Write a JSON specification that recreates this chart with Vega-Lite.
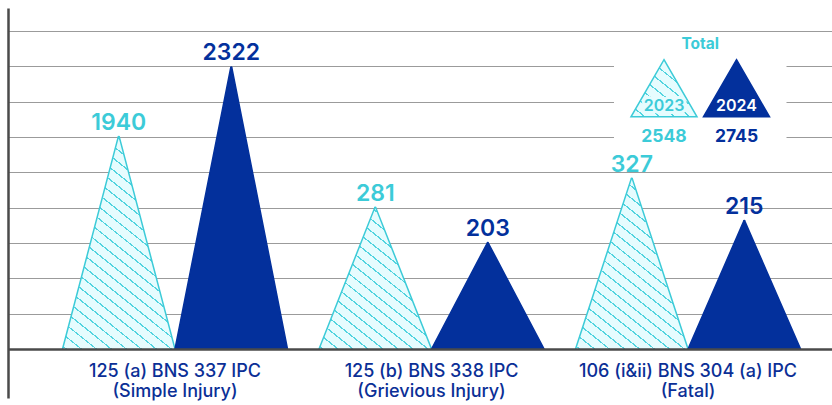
{
  "$schema": "https://vega.github.io/schema/vega-lite/v6.json",
  "width": 824,
  "height": 390,
  "padding": {"left": 8, "top": 8, "right": 0, "bottom": 7},
  "autosize": {"type": "none"},
  "background": "white",
  "config": {"view": {"stroke": null}, "font": "Inter", "text": {"font": "Inter"}, "axis": {"labelFont": "Inter"}},
  "datasets": {
    "crimes": [
      {"crime": "125 (a) BNS 337 IPC (Simple Injury)", "year": 2023, "value": 1940, "peak": 6.0},
      {"crime": "125 (a) BNS 337 IPC (Simple Injury)", "year": 2024, "value": 2322, "peak": 7.97},
      {"crime": "125 (b) BNS 338 IPC (Grievious Injury)", "year": 2023, "value": 281, "peak": 4.0},
      {"crime": "125 (b) BNS 338 IPC (Grievious Injury)", "year": 2024, "value": 203, "peak": 3.0},
      {"crime": "106 (i&ii) BNS 304 (a) IPC (Fatal)", "year": 2023, "value": 327, "peak": 4.82},
      {"crime": "106 (i&ii) BNS 304 (a) IPC (Fatal)", "year": 2024, "value": 215, "peak": 3.62}
    ],
    "totals": [
      {"year": 2023, "total": 2548},
      {"year": 2024, "total": 2745}
    ]
  },
  "layer": [
    {
      "data": {"name": "crimes"},
      "layer": [
        {
          "transform": [
            {"fold": ["peak"], "as": ["end", "h"]},
            {"impute": "h", "key": "end", "keyvals": ["base", "peak"], "groupby": ["crime", "year"], "value": 0}
          ],
          "mark": {"type": "trail", "clip": true, "strokeWidth": 1.5},
          "encoding": {
            "x": {
              "field": "crime", "type": "nominal",
              "sort": ["125 (a) BNS 337 IPC (Simple Injury)", "125 (b) BNS 338 IPC (Grievious Injury)", "106 (i&ii) BNS 304 (a) IPC (Fatal)"],
              "scale": {"type": "band", "paddingInner": 0.1228, "paddingOuter": 0.1676, "align": 0.634},
              "axis": {
                "title": null, "orient": "bottom", "offset": -49, "domain": true, "domainColor": "#4a4a4a", "domainWidth": 2.5,
                "ticks": false, "tickSize": 0, "labelPadding": 13, "labelFont": "Inter", "labelFontSize": 18, "labelFontWeight": 500,
                "labelColor": "#0b2f96", "labelLineHeight": 20, "labelLimit": 1000, "labelAngle": 0, "zindex": 1,
                "labelExpr": "[slice(datum.label, 0, lastindexof(datum.label, ' (')), slice(datum.label, lastindexof(datum.label, ' (') + 1)]"
              }
            },
            "xOffset": {"field": "year", "type": "nominal", "scale": {"type": "point", "padding": 0.5}},
            "y": {
              "field": "h", "type": "quantitative",
              "scale": {"domain": [-1.387, 9.651], "nice": false, "zero": false},
              "axis": {
                "title": null, "labels": false, "ticks": false, "domain": true, "domainColor": "#4a4a4a", "domainWidth": 2.5,
                "grid": true, "gridColor": "#9b9b9b", "gridWidth": 1.2, "values": [1, 2, 3, 4, 5, 6, 7, 8, 9]
              }
            },
            "size": {"condition": {"test": "datum.end === 'base'", "value": 112.5}, "value": 0},
            "order": {"field": "h", "type": "quantitative"},
            "detail": [{"field": "crime", "type": "nominal"}, {"field": "year", "type": "nominal"}],
            "stroke": {"condition": {"test": "datum.year === 2023", "value": "#3ccbd8"}, "value": "#03309c"},
            "fill": {
              "condition": [
                {"test": "datum.year === 2023 && datum.crime === '125 (a) BNS 337 IPC (Simple Injury)'", "value": {"gradient": "linear", "x1": 0, "y1": 1, "x2": 0.4047, "y2": -0.2062, "stops": [
{"offset":0,"color":"#e6fcfe"},{"offset":0.029,"color":"#e6fcfe"},{"offset":0.029,"color":"#52d4df"},{"offset":0.0333,"color":"#52d4df"},
{"offset":0.0333,"color":"#e6fcfe"},{"offset":0.0623,"color":"#e6fcfe"},{"offset":0.0623,"color":"#52d4df"},{"offset":0.0667,"color":"#52d4df"},
{"offset":0.0667,"color":"#e6fcfe"},{"offset":0.0957,"color":"#e6fcfe"},{"offset":0.0957,"color":"#52d4df"},{"offset":0.1,"color":"#52d4df"},
{"offset":0.1,"color":"#e6fcfe"},{"offset":0.129,"color":"#e6fcfe"},{"offset":0.129,"color":"#52d4df"},{"offset":0.1333,"color":"#52d4df"},
{"offset":0.1333,"color":"#e6fcfe"},{"offset":0.1623,"color":"#e6fcfe"},{"offset":0.1623,"color":"#52d4df"},{"offset":0.1667,"color":"#52d4df"},
{"offset":0.1667,"color":"#e6fcfe"},{"offset":0.1957,"color":"#e6fcfe"},{"offset":0.1957,"color":"#52d4df"},{"offset":0.2,"color":"#52d4df"},
{"offset":0.2,"color":"#e6fcfe"},{"offset":0.229,"color":"#e6fcfe"},{"offset":0.229,"color":"#52d4df"},{"offset":0.2333,"color":"#52d4df"},
{"offset":0.2333,"color":"#e6fcfe"},{"offset":0.2623,"color":"#e6fcfe"},{"offset":0.2623,"color":"#52d4df"},{"offset":0.2667,"color":"#52d4df"},
{"offset":0.2667,"color":"#e6fcfe"},{"offset":0.2957,"color":"#e6fcfe"},{"offset":0.2957,"color":"#52d4df"},{"offset":0.3,"color":"#52d4df"},
{"offset":0.3,"color":"#e6fcfe"},{"offset":0.329,"color":"#e6fcfe"},{"offset":0.329,"color":"#52d4df"},{"offset":0.3333,"color":"#52d4df"},
{"offset":0.3333,"color":"#e6fcfe"},{"offset":0.3623,"color":"#e6fcfe"},{"offset":0.3623,"color":"#52d4df"},{"offset":0.3667,"color":"#52d4df"},
{"offset":0.3667,"color":"#e6fcfe"},{"offset":0.3957,"color":"#e6fcfe"},{"offset":0.3957,"color":"#52d4df"},{"offset":0.4,"color":"#52d4df"},
{"offset":0.4,"color":"#e6fcfe"},{"offset":0.429,"color":"#e6fcfe"},{"offset":0.429,"color":"#52d4df"},{"offset":0.4333,"color":"#52d4df"},
{"offset":0.4333,"color":"#e6fcfe"},{"offset":0.4623,"color":"#e6fcfe"},{"offset":0.4623,"color":"#52d4df"},{"offset":0.4667,"color":"#52d4df"},
{"offset":0.4667,"color":"#e6fcfe"},{"offset":0.4957,"color":"#e6fcfe"},{"offset":0.4957,"color":"#52d4df"},{"offset":0.5,"color":"#52d4df"},
{"offset":0.5,"color":"#e6fcfe"},{"offset":0.529,"color":"#e6fcfe"},{"offset":0.529,"color":"#52d4df"},{"offset":0.5333,"color":"#52d4df"},
{"offset":0.5333,"color":"#e6fcfe"},{"offset":0.5623,"color":"#e6fcfe"},{"offset":0.5623,"color":"#52d4df"},{"offset":0.5667,"color":"#52d4df"},
{"offset":0.5667,"color":"#e6fcfe"},{"offset":0.5957,"color":"#e6fcfe"},{"offset":0.5957,"color":"#52d4df"},{"offset":0.6,"color":"#52d4df"},
{"offset":0.6,"color":"#e6fcfe"},{"offset":0.629,"color":"#e6fcfe"},{"offset":0.629,"color":"#52d4df"},{"offset":0.6333,"color":"#52d4df"},
{"offset":0.6333,"color":"#e6fcfe"},{"offset":0.6623,"color":"#e6fcfe"},{"offset":0.6623,"color":"#52d4df"},{"offset":0.6667,"color":"#52d4df"},
{"offset":0.6667,"color":"#e6fcfe"},{"offset":0.6957,"color":"#e6fcfe"},{"offset":0.6957,"color":"#52d4df"},{"offset":0.7,"color":"#52d4df"},
{"offset":0.7,"color":"#e6fcfe"},{"offset":0.729,"color":"#e6fcfe"},{"offset":0.729,"color":"#52d4df"},{"offset":0.7333,"color":"#52d4df"},
{"offset":0.7333,"color":"#e6fcfe"},{"offset":0.7623,"color":"#e6fcfe"},{"offset":0.7623,"color":"#52d4df"},{"offset":0.7667,"color":"#52d4df"},
{"offset":0.7667,"color":"#e6fcfe"},{"offset":0.7957,"color":"#e6fcfe"},{"offset":0.7957,"color":"#52d4df"},{"offset":0.8,"color":"#52d4df"},
{"offset":0.8,"color":"#e6fcfe"},{"offset":0.829,"color":"#e6fcfe"},{"offset":0.829,"color":"#52d4df"},{"offset":0.8333,"color":"#52d4df"},
{"offset":0.8333,"color":"#e6fcfe"},{"offset":0.8623,"color":"#e6fcfe"},{"offset":0.8623,"color":"#52d4df"},{"offset":0.8667,"color":"#52d4df"},
{"offset":0.8667,"color":"#e6fcfe"},{"offset":0.8957,"color":"#e6fcfe"},{"offset":0.8957,"color":"#52d4df"},{"offset":0.9,"color":"#52d4df"},
{"offset":0.9,"color":"#e6fcfe"},{"offset":0.929,"color":"#e6fcfe"},{"offset":0.929,"color":"#52d4df"},{"offset":0.9333,"color":"#52d4df"},
{"offset":0.9333,"color":"#e6fcfe"},{"offset":0.9623,"color":"#e6fcfe"},{"offset":0.9623,"color":"#52d4df"},{"offset":0.9667,"color":"#52d4df"},
{"offset":0.9667,"color":"#e6fcfe"},{"offset":0.9957,"color":"#e6fcfe"},{"offset":0.9957,"color":"#52d4df"},{"offset":1,"color":"#52d4df"}
                ]}},
                {"test": "datum.year === 2023 && datum.crime === '125 (b) BNS 338 IPC (Grievious Injury)'", "value": {"gradient": "linear", "x1": 0, "y1": 1, "x2": 0.6873, "y2": -0.5089, "stops": [
{"offset":0,"color":"#e6fcfe"},{"offset":0.029,"color":"#e6fcfe"},{"offset":0.029,"color":"#52d4df"},{"offset":0.0333,"color":"#52d4df"},
{"offset":0.0333,"color":"#e6fcfe"},{"offset":0.0623,"color":"#e6fcfe"},{"offset":0.0623,"color":"#52d4df"},{"offset":0.0667,"color":"#52d4df"},
{"offset":0.0667,"color":"#e6fcfe"},{"offset":0.0957,"color":"#e6fcfe"},{"offset":0.0957,"color":"#52d4df"},{"offset":0.1,"color":"#52d4df"},
{"offset":0.1,"color":"#e6fcfe"},{"offset":0.129,"color":"#e6fcfe"},{"offset":0.129,"color":"#52d4df"},{"offset":0.1333,"color":"#52d4df"},
{"offset":0.1333,"color":"#e6fcfe"},{"offset":0.1623,"color":"#e6fcfe"},{"offset":0.1623,"color":"#52d4df"},{"offset":0.1667,"color":"#52d4df"},
{"offset":0.1667,"color":"#e6fcfe"},{"offset":0.1957,"color":"#e6fcfe"},{"offset":0.1957,"color":"#52d4df"},{"offset":0.2,"color":"#52d4df"},
{"offset":0.2,"color":"#e6fcfe"},{"offset":0.229,"color":"#e6fcfe"},{"offset":0.229,"color":"#52d4df"},{"offset":0.2333,"color":"#52d4df"},
{"offset":0.2333,"color":"#e6fcfe"},{"offset":0.2623,"color":"#e6fcfe"},{"offset":0.2623,"color":"#52d4df"},{"offset":0.2667,"color":"#52d4df"},
{"offset":0.2667,"color":"#e6fcfe"},{"offset":0.2957,"color":"#e6fcfe"},{"offset":0.2957,"color":"#52d4df"},{"offset":0.3,"color":"#52d4df"},
{"offset":0.3,"color":"#e6fcfe"},{"offset":0.329,"color":"#e6fcfe"},{"offset":0.329,"color":"#52d4df"},{"offset":0.3333,"color":"#52d4df"},
{"offset":0.3333,"color":"#e6fcfe"},{"offset":0.3623,"color":"#e6fcfe"},{"offset":0.3623,"color":"#52d4df"},{"offset":0.3667,"color":"#52d4df"},
{"offset":0.3667,"color":"#e6fcfe"},{"offset":0.3957,"color":"#e6fcfe"},{"offset":0.3957,"color":"#52d4df"},{"offset":0.4,"color":"#52d4df"},
{"offset":0.4,"color":"#e6fcfe"},{"offset":0.429,"color":"#e6fcfe"},{"offset":0.429,"color":"#52d4df"},{"offset":0.4333,"color":"#52d4df"},
{"offset":0.4333,"color":"#e6fcfe"},{"offset":0.4623,"color":"#e6fcfe"},{"offset":0.4623,"color":"#52d4df"},{"offset":0.4667,"color":"#52d4df"},
{"offset":0.4667,"color":"#e6fcfe"},{"offset":0.4957,"color":"#e6fcfe"},{"offset":0.4957,"color":"#52d4df"},{"offset":0.5,"color":"#52d4df"},
{"offset":0.5,"color":"#e6fcfe"},{"offset":0.529,"color":"#e6fcfe"},{"offset":0.529,"color":"#52d4df"},{"offset":0.5333,"color":"#52d4df"},
{"offset":0.5333,"color":"#e6fcfe"},{"offset":0.5623,"color":"#e6fcfe"},{"offset":0.5623,"color":"#52d4df"},{"offset":0.5667,"color":"#52d4df"},
{"offset":0.5667,"color":"#e6fcfe"},{"offset":0.5957,"color":"#e6fcfe"},{"offset":0.5957,"color":"#52d4df"},{"offset":0.6,"color":"#52d4df"},
{"offset":0.6,"color":"#e6fcfe"},{"offset":0.629,"color":"#e6fcfe"},{"offset":0.629,"color":"#52d4df"},{"offset":0.6333,"color":"#52d4df"},
{"offset":0.6333,"color":"#e6fcfe"},{"offset":0.6623,"color":"#e6fcfe"},{"offset":0.6623,"color":"#52d4df"},{"offset":0.6667,"color":"#52d4df"},
{"offset":0.6667,"color":"#e6fcfe"},{"offset":0.6957,"color":"#e6fcfe"},{"offset":0.6957,"color":"#52d4df"},{"offset":0.7,"color":"#52d4df"},
{"offset":0.7,"color":"#e6fcfe"},{"offset":0.729,"color":"#e6fcfe"},{"offset":0.729,"color":"#52d4df"},{"offset":0.7333,"color":"#52d4df"},
{"offset":0.7333,"color":"#e6fcfe"},{"offset":0.7623,"color":"#e6fcfe"},{"offset":0.7623,"color":"#52d4df"},{"offset":0.7667,"color":"#52d4df"},
{"offset":0.7667,"color":"#e6fcfe"},{"offset":0.7957,"color":"#e6fcfe"},{"offset":0.7957,"color":"#52d4df"},{"offset":0.8,"color":"#52d4df"},
{"offset":0.8,"color":"#e6fcfe"},{"offset":1,"color":"#e6fcfe"}
                ]}},
                {"test": "datum.year === 2023 && datum.crime === '106 (i&ii) BNS 304 (a) IPC (Fatal)'", "value": {"gradient": "linear", "x1": 0, "y1": 1, "x2": 0.5452, "y2": -0.3724, "stops": [
{"offset":0,"color":"#e6fcfe"},{"offset":0.029,"color":"#e6fcfe"},{"offset":0.029,"color":"#52d4df"},{"offset":0.0333,"color":"#52d4df"},
{"offset":0.0333,"color":"#e6fcfe"},{"offset":0.0623,"color":"#e6fcfe"},{"offset":0.0623,"color":"#52d4df"},{"offset":0.0667,"color":"#52d4df"},
{"offset":0.0667,"color":"#e6fcfe"},{"offset":0.0957,"color":"#e6fcfe"},{"offset":0.0957,"color":"#52d4df"},{"offset":0.1,"color":"#52d4df"},
{"offset":0.1,"color":"#e6fcfe"},{"offset":0.129,"color":"#e6fcfe"},{"offset":0.129,"color":"#52d4df"},{"offset":0.1333,"color":"#52d4df"},
{"offset":0.1333,"color":"#e6fcfe"},{"offset":0.1623,"color":"#e6fcfe"},{"offset":0.1623,"color":"#52d4df"},{"offset":0.1667,"color":"#52d4df"},
{"offset":0.1667,"color":"#e6fcfe"},{"offset":0.1957,"color":"#e6fcfe"},{"offset":0.1957,"color":"#52d4df"},{"offset":0.2,"color":"#52d4df"},
{"offset":0.2,"color":"#e6fcfe"},{"offset":0.229,"color":"#e6fcfe"},{"offset":0.229,"color":"#52d4df"},{"offset":0.2333,"color":"#52d4df"},
{"offset":0.2333,"color":"#e6fcfe"},{"offset":0.2623,"color":"#e6fcfe"},{"offset":0.2623,"color":"#52d4df"},{"offset":0.2667,"color":"#52d4df"},
{"offset":0.2667,"color":"#e6fcfe"},{"offset":0.2957,"color":"#e6fcfe"},{"offset":0.2957,"color":"#52d4df"},{"offset":0.3,"color":"#52d4df"},
{"offset":0.3,"color":"#e6fcfe"},{"offset":0.329,"color":"#e6fcfe"},{"offset":0.329,"color":"#52d4df"},{"offset":0.3333,"color":"#52d4df"},
{"offset":0.3333,"color":"#e6fcfe"},{"offset":0.3623,"color":"#e6fcfe"},{"offset":0.3623,"color":"#52d4df"},{"offset":0.3667,"color":"#52d4df"},
{"offset":0.3667,"color":"#e6fcfe"},{"offset":0.3957,"color":"#e6fcfe"},{"offset":0.3957,"color":"#52d4df"},{"offset":0.4,"color":"#52d4df"},
{"offset":0.4,"color":"#e6fcfe"},{"offset":0.429,"color":"#e6fcfe"},{"offset":0.429,"color":"#52d4df"},{"offset":0.4333,"color":"#52d4df"},
{"offset":0.4333,"color":"#e6fcfe"},{"offset":0.4623,"color":"#e6fcfe"},{"offset":0.4623,"color":"#52d4df"},{"offset":0.4667,"color":"#52d4df"},
{"offset":0.4667,"color":"#e6fcfe"},{"offset":0.4957,"color":"#e6fcfe"},{"offset":0.4957,"color":"#52d4df"},{"offset":0.5,"color":"#52d4df"},
{"offset":0.5,"color":"#e6fcfe"},{"offset":0.529,"color":"#e6fcfe"},{"offset":0.529,"color":"#52d4df"},{"offset":0.5333,"color":"#52d4df"},
{"offset":0.5333,"color":"#e6fcfe"},{"offset":0.5623,"color":"#e6fcfe"},{"offset":0.5623,"color":"#52d4df"},{"offset":0.5667,"color":"#52d4df"},
{"offset":0.5667,"color":"#e6fcfe"},{"offset":0.5957,"color":"#e6fcfe"},{"offset":0.5957,"color":"#52d4df"},{"offset":0.6,"color":"#52d4df"},
{"offset":0.6,"color":"#e6fcfe"},{"offset":0.629,"color":"#e6fcfe"},{"offset":0.629,"color":"#52d4df"},{"offset":0.6333,"color":"#52d4df"},
{"offset":0.6333,"color":"#e6fcfe"},{"offset":0.6623,"color":"#e6fcfe"},{"offset":0.6623,"color":"#52d4df"},{"offset":0.6667,"color":"#52d4df"},
{"offset":0.6667,"color":"#e6fcfe"},{"offset":0.6957,"color":"#e6fcfe"},{"offset":0.6957,"color":"#52d4df"},{"offset":0.7,"color":"#52d4df"},
{"offset":0.7,"color":"#e6fcfe"},{"offset":0.729,"color":"#e6fcfe"},{"offset":0.729,"color":"#52d4df"},{"offset":0.7333,"color":"#52d4df"},
{"offset":0.7333,"color":"#e6fcfe"},{"offset":0.7623,"color":"#e6fcfe"},{"offset":0.7623,"color":"#52d4df"},{"offset":0.7667,"color":"#52d4df"},
{"offset":0.7667,"color":"#e6fcfe"},{"offset":0.7957,"color":"#e6fcfe"},{"offset":0.7957,"color":"#52d4df"},{"offset":0.8,"color":"#52d4df"},
{"offset":0.8,"color":"#e6fcfe"},{"offset":0.829,"color":"#e6fcfe"},{"offset":0.829,"color":"#52d4df"},{"offset":0.8333,"color":"#52d4df"},
{"offset":0.8333,"color":"#e6fcfe"},{"offset":0.8623,"color":"#e6fcfe"},{"offset":0.8623,"color":"#52d4df"},{"offset":0.8667,"color":"#52d4df"},
{"offset":0.8667,"color":"#e6fcfe"},{"offset":0.8957,"color":"#e6fcfe"},{"offset":0.8957,"color":"#52d4df"},{"offset":0.9,"color":"#52d4df"},
{"offset":0.9,"color":"#e6fcfe"},{"offset":1,"color":"#e6fcfe"}
                ]}}
              ],
              "value": "#03309c"
            }
          }
        },
        {
          "mark": {"type": "bar", "fill": "white", "width": 240},
          "encoding": {
            "x": {"field": "crime", "type": "nominal", "sort": ["125 (a) BNS 337 IPC (Simple Injury)", "125 (b) BNS 338 IPC (Grievious Injury)", "106 (i&ii) BNS 304 (a) IPC (Fatal)"]},
            "y": {"datum": 0, "type": "quantitative"},
            "y2": {"datum": -1.75}
          }
        },
        {
          "mark": {"type": "text", "baseline": "alphabetic", "dy": -7, "fontSize": 23, "fontWeight": 600, "font": "Inter"},
          "encoding": {
            "x": {"field": "crime", "type": "nominal", "sort": ["125 (a) BNS 337 IPC (Simple Injury)", "125 (b) BNS 338 IPC (Grievious Injury)", "106 (i&ii) BNS 304 (a) IPC (Fatal)"]},
            "xOffset": {"field": "year", "type": "nominal"},
            "y": {"field": "peak", "type": "quantitative", "title": null},
            "text": {"field": "value", "type": "nominal"},
            "color": {"field": "year", "type": "nominal", "scale": {"domain": [2023, 2024], "range": ["#3ccbd8", "#03309c"]}, "legend": null}
          }
        }
      ]
    },
    {
      "data": {"name": "totals"},
      "layer": [
        {
          "mark": {"type": "bar", "fill": "white", "width": 100},
          "encoding": {
            "x": {"field": "year", "type": "quantitative", "scale": {"domain": [2023, 2024], "range": [651, 733.5], "nice": false, "zero": false}, "axis": null},
            "y": {"datum": 8.75, "type": "quantitative"},
            "y2": {"datum": 5.55}
          }
        },
        {
          "mark": {"type": "point", "shape": "M0,-0.864L1,0.864L-1,0.864Z", "size": 4356, "filled": true, "opacity": 1, "strokeWidth": 1.5},
          "encoding": {
            "x": {"field": "year", "type": "quantitative", "axis": null},
            "y": {"datum": 7.38, "type": "quantitative"},
            "stroke": {"condition": {"test": "datum.year === 2023", "value": "#3ccbd8"}, "value": "#03309c"},
            "fill": {
              "condition": {"test": "datum.year === 2023", "value": {"gradient": "linear", "x1": 0, "y1": 1, "x2": 3.1487, "y2": -2.399, "stops": [
{"offset":0,"color":"#e6fcfe"},{"offset":0.029,"color":"#e6fcfe"},{"offset":0.029,"color":"#52d4df"},{"offset":0.0333,"color":"#52d4df"},
{"offset":0.0333,"color":"#e6fcfe"},{"offset":0.0623,"color":"#e6fcfe"},{"offset":0.0623,"color":"#52d4df"},{"offset":0.0667,"color":"#52d4df"},
{"offset":0.0667,"color":"#e6fcfe"},{"offset":0.0957,"color":"#e6fcfe"},{"offset":0.0957,"color":"#52d4df"},{"offset":0.1,"color":"#52d4df"},
{"offset":0.1,"color":"#e6fcfe"},{"offset":0.129,"color":"#e6fcfe"},{"offset":0.129,"color":"#52d4df"},{"offset":0.1333,"color":"#52d4df"},
{"offset":0.1333,"color":"#e6fcfe"},{"offset":0.1623,"color":"#e6fcfe"},{"offset":0.1623,"color":"#52d4df"},{"offset":0.1667,"color":"#52d4df"},
{"offset":0.1667,"color":"#e6fcfe"},{"offset":0.1957,"color":"#e6fcfe"},{"offset":0.1957,"color":"#52d4df"},{"offset":0.2,"color":"#52d4df"},
{"offset":0.2,"color":"#e6fcfe"},{"offset":0.229,"color":"#e6fcfe"},{"offset":0.229,"color":"#52d4df"},{"offset":0.2333,"color":"#52d4df"},
{"offset":0.2333,"color":"#e6fcfe"},{"offset":0.2623,"color":"#e6fcfe"},{"offset":0.2623,"color":"#52d4df"},{"offset":0.2667,"color":"#52d4df"},
{"offset":0.2667,"color":"#e6fcfe"},{"offset":0.2957,"color":"#e6fcfe"},{"offset":0.2957,"color":"#52d4df"},{"offset":0.3,"color":"#52d4df"},
{"offset":0.3,"color":"#e6fcfe"},{"offset":0.329,"color":"#e6fcfe"},{"offset":0.329,"color":"#52d4df"},{"offset":0.3333,"color":"#52d4df"},
{"offset":0.3333,"color":"#e6fcfe"},{"offset":1,"color":"#e6fcfe"}
              ]}},
              "value": "#03309c"
            }
          }
        },
        {
          "transform": [{"filter": "datum.year === 2023"}],
          "mark": {"type": "text", "baseline": "alphabetic", "fontSize": 16, "fontWeight": 600, "font": "Inter", "color": "#e6fcfe", "stroke": "#e6fcfe", "strokeWidth": 6, "strokeJoin": "round"},
          "encoding": {
            "x": {"field": "year", "type": "quantitative", "axis": null},
            "y": {"datum": 6.736, "type": "quantitative"},
            "text": {"field": "year", "type": "nominal"}
          }
        },
        {
          "mark": {"type": "text", "baseline": "alphabetic", "fontSize": 16, "fontWeight": 600, "font": "Inter"},
          "encoding": {
            "x": {"field": "year", "type": "quantitative", "axis": null},
            "y": {"datum": 6.736, "type": "quantitative"},
            "text": {"field": "year", "type": "nominal"},
            "color": {"condition": {"test": "datum.year === 2024", "value": "white"}, "value": "#3ccbd8"}
          }
        },
        {
          "mark": {"type": "text", "baseline": "alphabetic", "fontSize": 17.5, "fontWeight": 700, "font": "Inter"},
          "encoding": {
            "x": {"field": "year", "type": "quantitative", "axis": null},
            "y": {"datum": 5.85, "type": "quantitative"},
            "text": {"field": "total", "type": "nominal"},
            "color": {"field": "year", "type": "nominal", "legend": null}
          }
        },
        {
          "mark": {"type": "text", "baseline": "alphabetic", "fontSize": 15.5, "fontWeight": 700, "font": "Inter", "color": "#3ccbd8"},
          "encoding": {
            "x": {"aggregate": "mean", "field": "year", "type": "quantitative", "axis": null},
            "y": {"datum": 8.49, "type": "quantitative"},
            "text": {"value": "Total"}
          }
        }
      ]
    }
  ],
  "resolve": {"scale": {"x": "independent"}}
}
